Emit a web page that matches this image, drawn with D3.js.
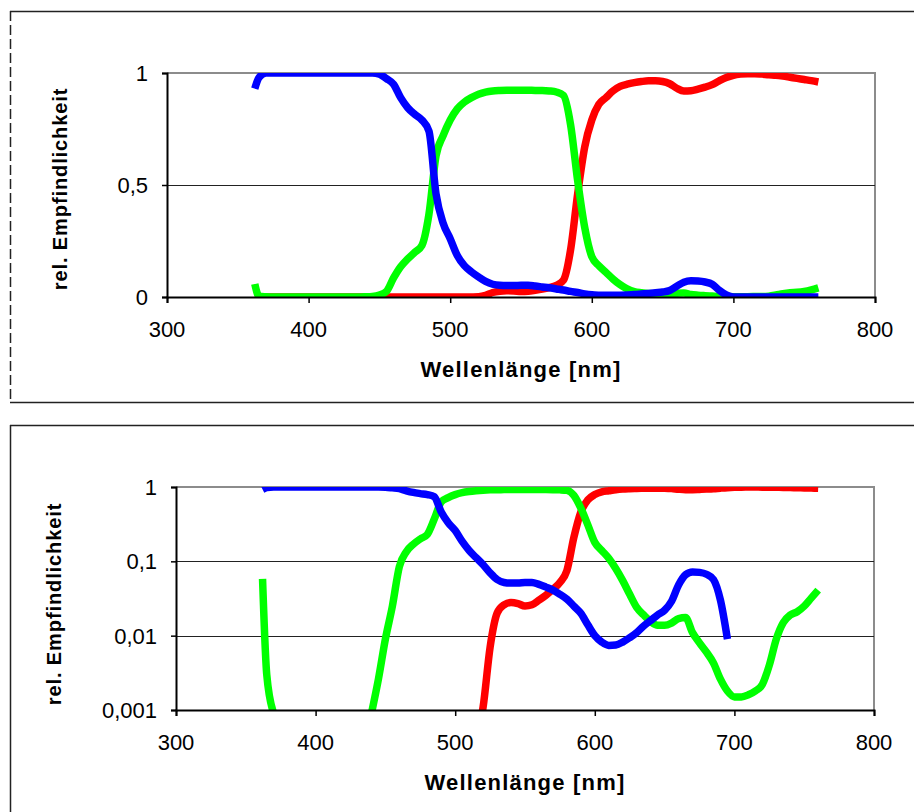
<!DOCTYPE html>
<html>
<head>
<meta charset="utf-8">
<script src="https://cdn.jsdelivr.net/npm/d3@7"></script>
<style>
    body { margin: 0; background: #fff; }
    svg { display: block; }
    text { font-family: Arial, "Liberation Sans", sans-serif; fill: #000; }
</style>
</head>
<body>
<div id="chart"></div>
<script>
//*************************1. Data

const wavelengths = [362,
    365, 370, 375, 380, 385, 390, 395, 400, 405, 410,
    415, 420, 425, 430, 435, 440, 445, 450, 455, 460,
    465, 470, 475, 480, 485, 490, 495, 500, 505, 510,
    515, 520, 525, 530, 535, 540, 545, 550, 555, 560,
    565, 570, 575, 580, 585, 590, 595, 600, 605, 610,
    615, 620, 625, 630, 635, 640, 645, 650, 655, 660,
    665, 670, 675, 680, 685, 690, 695, 700, 705, 710,
    715, 720, 725, 730, 735, 740, 745, 750, 755, 760]

const red = [0,
    0, 0, 0, 0, 0, 0, 0, 0, 0, 0,
    0, 0, 0, 0, 0, 0, 0, 0, 0, 0,
    0, 0, 0, 0, 0, 0, 0, 0, 0, 0,
    0.0004, 0.0011, 0.007, 0.02, 0.026, 0.028, 0.027, 0.025, 0.026, 0.03,
    0.035, 0.042, 0.052, 0.075, 0.21, 0.46, 0.67, 0.79, 0.86, 0.89,
    0.92, 0.94, 0.95, 0.957, 0.962, 0.965, 0.965, 0.962, 0.952, 0.932,
    0.92, 0.921, 0.928, 0.937, 0.948, 0.965, 0.98, 0.99, 0.995, 0.997,
    0.997, 0.995, 0.992, 0.99, 0.986, 0.981, 0.976, 0.971, 0.966, 0.96]

const green = [0.058,
    0.003, 0.0009, 0, 0, 0, 0, 0, 0, 0, 0,
    0, 0, 0, 0, 0, 0.0009, 0.0026, 0.009, 0.025, 0.085,
    0.135, 0.17, 0.2, 0.23, 0.37, 0.63, 0.72, 0.79, 0.84, 0.87,
    0.89, 0.905, 0.915, 0.92, 0.922, 0.923, 0.923, 0.923, 0.923, 0.922,
    0.922, 0.92, 0.915, 0.9, 0.77, 0.52, 0.31, 0.18, 0.14, 0.11,
    0.08, 0.055, 0.036, 0.024, 0.019, 0.0155, 0.0138, 0.0138, 0.0148, 0.017,
    0.0175, 0.011, 0.008, 0.006, 0.0043, 0.0026, 0.0018, 0.0015, 0.0015, 0.0016,
    0.0018, 0.0022, 0.004, 0.009, 0.015, 0.019, 0.021, 0.025, 0.032, 0.041]

const blue = [0.93,
    0.98, 1, 1, 1, 1, 1, 1, 1, 1, 1,
    1, 1, 1, 1, 1, 1, 1, 0.995, 0.975, 0.95,
    0.89, 0.845, 0.815, 0.79, 0.74, 0.46, 0.33, 0.26, 0.185, 0.14,
    0.112, 0.09, 0.07, 0.057, 0.052, 0.051, 0.051, 0.052, 0.052, 0.049,
    0.045, 0.041, 0.036, 0.031, 0.025, 0.02, 0.014, 0.01, 0.0082, 0.0074,
    0.0075, 0.0082, 0.0094, 0.011, 0.0135, 0.016, 0.019, 0.022, 0.029, 0.048,
    0.066, 0.072, 0.071, 0.067, 0.057, 0.03, 0.009, 0, 0, 0,
    0, 0, 0, 0, 0, 0, 0, 0, 0, 0]

const seriesNames = ["red", "green", "blue"]
const seriesValues = [red, green, blue]
const seriesColors = ["#ff0000", "#00ff00", "#0000ff"]

const xTicks = [300, 400, 500, 600, 700, 800]
const linTicks = [0, 0.5, 1]
const linLabels = ["0", "0,5", "1"]
const logTicks = [0.001, 0.01, 0.1, 1]
const logLabels = ["0,001", "0,01", "0,1", "1"]

const xTitle = "Wellenlänge [nm]"
const yTitle = "rel. Empfindlichkeit"

//*************************2. Wrapper

const wrapper = d3.select("#chart")
    .append("svg")
    .attr("width", 914)
    .attr("height", 812)

// outer boxes (they run off the right / bottom edge)
const boxes = wrapper.append("g")
    .attr("stroke", "#222")
    .attr("stroke-width", 1.5)
    .attr("fill", "none")

boxes.append("line").attr("x1", 10).attr("x2", 930).attr("y1", 11.5).attr("y2", 11.5)
boxes.append("line").attr("x1", 10).attr("x2", 930).attr("y1", 402.5).attr("y2", 402.5)
boxes.append("line").attr("x1", 10.5).attr("x2", 10.5).attr("y1", 11).attr("y2", 403)
    .attr("stroke-dasharray", "10,4")
boxes.append("line").attr("x1", 10).attr("x2", 930).attr("y1", 425.5).attr("y2", 425.5)
boxes.append("line").attr("x1", 10.5).attr("x2", 10.5).attr("y1", 425).attr("y2", 830)

//*************************3. Panels

const series = seriesNames.map((name, i) => ({
    name: name,
    color: seriesColors[i],
    values: wavelengths.map((w, j) => ({ w: w, v: seriesValues[i][j] }))
}))

function drawPanel(p) {
    const xScale = d3.scaleLinear()
        .domain([300, 800])
        .range([p.left, p.right])

    const yScale = (p.log ? d3.scaleLog() : d3.scaleLinear())
        .domain(p.log ? [0.001, 1] : [0, 1])
        .range([p.bottom, p.top])

    const g = wrapper.append("g")

    //----------------------frame + grid
    g.append("line")
        .attr("x1", p.left).attr("x2", p.right)
        .attr("y1", p.top).attr("y2", p.top)
        .attr("stroke", "#8c8c8c").attr("stroke-width", 2)
    g.append("line")
        .attr("x1", p.right).attr("x2", p.right)
        .attr("y1", p.top - 1).attr("y2", p.bottom)
        .attr("stroke", "#8c8c8c").attr("stroke-width", 2)

    g.selectAll(".grid")
        .data(p.ticks.slice(1, -1))
        .join("line")
        .attr("x1", p.left).attr("x2", p.right)
        .attr("y1", d => Math.round(yScale(d)) + 0.5)
        .attr("y2", d => Math.round(yScale(d)) + 0.5)
        .attr("stroke", "#222").attr("stroke-width", 1.2)

    //----------------------lines
    const clipId = "clip" + p.id
    g.append("clipPath").attr("id", clipId)
        .append("rect")
        .attr("x", p.left).attr("y", p.top)
        .attr("width", p.right - p.left)
        .attr("height", p.bottom - p.top)

    const lineGenerator = d3.line()
        .defined(d => !p.log || d.v > 0)
        .x(d => xScale(d.w))
        .y(d => yScale(d.v))
        .curve(d3.curveMonotoneX)

    g.append("g")
        .attr("clip-path", `url(#${clipId})`)
        .selectAll("path")
        .data(series)
        .join("path")
        .attr("d", d => lineGenerator(d.values))
        .attr("stroke", d => d.color)
        .attr("stroke-width", 7.5)
        .attr("stroke-linejoin", "round")
        .attr("fill", "none")

    //----------------------axes
    const xAxisGenerator = d3.axisBottom(xScale)
        .tickValues(xTicks)
        .tickSize(6)
        .tickFormat("")

    const yAxisGenerator = d3.axisLeft(yScale)
        .tickValues(p.ticks)
        .tickSize(5)
        .tickFormat("")

    const xAxis = g.append("g")
        .call(xAxisGenerator)
        .style("transform", `translateY(${p.bottom}px)`)
    const yAxis = g.append("g")
        .call(yAxisGenerator)
        .style("transform", `translateX(${p.left}px)`)

    xAxis.select(".domain").attr("stroke", "#000").attr("stroke-width", 2)
    yAxis.select(".domain").attr("stroke", "#000").attr("stroke-width", 2)
    xAxis.selectAll(".tick line").attr("stroke", "#000").attr("stroke-width", 1.5)
    yAxis.selectAll(".tick line").attr("stroke", "#000").attr("stroke-width", 1.5)

    //----------------------tick labels
    g.selectAll(".xlabel")
        .data(xTicks)
        .join("text")
        .attr("x", d => xScale(d))
        .attr("y", p.bottom + 40)
        .attr("text-anchor", "middle")
        .style("font-size", "22px")
        .text(d => d)

    g.selectAll(".ylabel")
        .data(p.ticks)
        .join("text")
        .attr("x", p.left - 19)
        .attr("y", d => yScale(d))
        .attr("dy", "0.36em")
        .attr("text-anchor", "end")
        .style("font-size", "22px")
        .text((d, i) => p.labels[i])

    //----------------------titles
    g.append("text")
        .attr("x", (p.left + p.right) / 2)
        .attr("y", p.bottom + 80)
        .attr("text-anchor", "middle")
        .style("font-size", "22px")
        .style("font-weight", "bold")
        .style("letter-spacing", "1.2px")
        .text(xTitle)

    g.append("text")
        .attr("transform", `translate(${p.yTitleX}, ${p.yTitleY}) rotate(-90)`)
        .attr("text-anchor", "middle")
        .style("font-size", "20px")
        .style("font-weight", "bold")
        .style("letter-spacing", "0.9px")
        .text(yTitle)
}

drawPanel({
    id: "Lin", log: false,
    left: 167, right: 875, top: 73, bottom: 297,
    ticks: linTicks, labels: linLabels,
    yTitleX: 67, yTitleY: 189
})

drawPanel({
    id: "Log", log: true,
    left: 176, right: 874, top: 487, bottom: 710,
    ticks: logTicks, labels: logLabels,
    yTitleX: 61, yTitleY: 604
})
</script>
</body>
</html>
